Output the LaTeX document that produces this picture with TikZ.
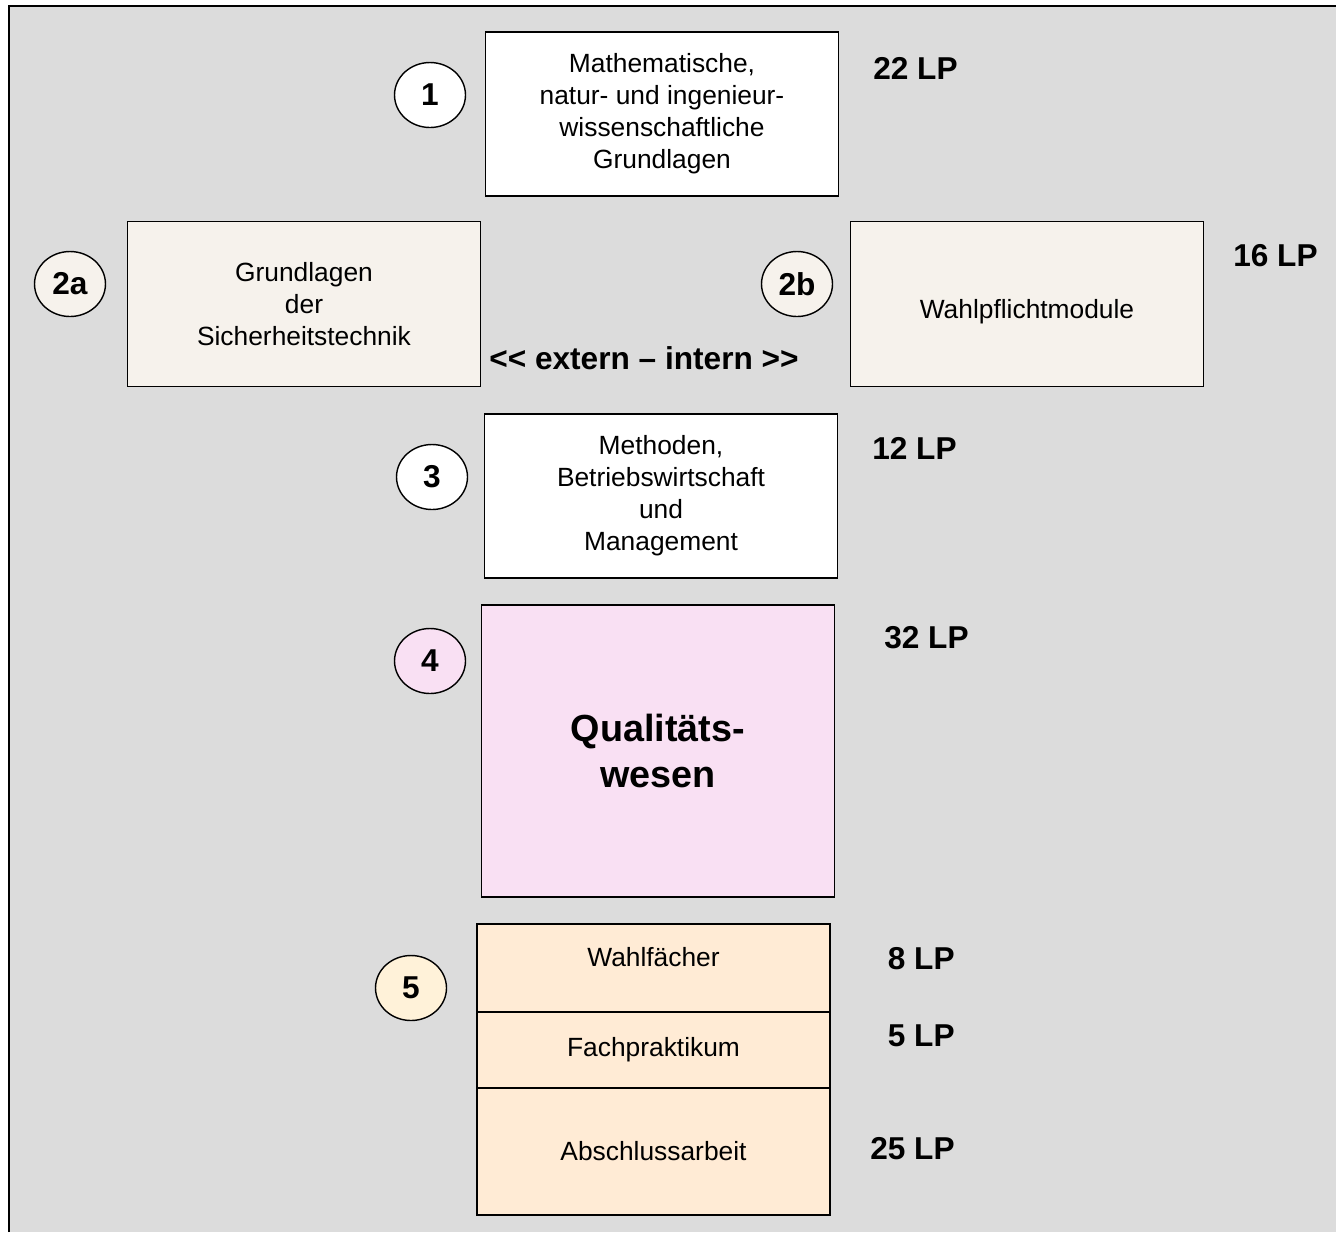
\documentclass[tikz,border=0pt]{standalone}
\usepackage{fontspec}
\setmainfont{Liberation Sans}
\usepackage{xcolor}
\usetikzlibrary{positioning, shapes.geometric}

\definecolor{bggray}{HTML}{DCDCDC}
\definecolor{creamfill}{HTML}{F6F2EC}
\definecolor{pinkfill}{HTML}{F9E0F3}
\definecolor{peachfill}{HTML}{FFEBD5}
\definecolor{peachcirc}{HTML}{FFF2D9}

\begin{document}
\begin{tikzpicture}[
    x=0.02cm, y=-0.02cm,
    modbox/.style={rectangle, draw=black, line width=0.8pt, inner sep=0pt,
        minimum width=7.07cm, align=center, font=\fontsize{15}{18.2}\selectfont},
    partbox/.style={modbox, fill=peachfill, outer sep=0pt, minimum width=7.06cm},
    numcirc/.style={ellipse, draw=black, line width=0.8pt, inner sep=0pt,
        minimum width=1.42cm, minimum height=1.3cm, font=\fontsize{18}{21}\selectfont\bfseries},
    lplabel/.style={font=\fontsize{18}{21}\selectfont\bfseries, inner sep=0pt},
]
\useasboundingbox (0,0) rectangle (1336,1232);
\fill[bggray] (9,6) rectangle (1336,1232);
\draw[line width=1.2pt] (9,1232) -- (9,6) -- (1336,6);

% 1
\node[modbox, fill=white, minimum height=3.28cm] (b1) at (662,114) {Mathematische,\\natur- und ingenieur-\\wissenschaftliche\\Grundlagen};
\node[numcirc, fill=white] (c1) at (430,95) {1};
\node[lplabel, anchor=east] (lp1) at (958,68) {22 LP};

% 2a / 2b
\node[modbox, fill=creamfill, minimum height=3.3cm] (b2a) at (304,304) {Grundlagen\\der\\Sicherheitstechnik};
\node[numcirc, fill=creamfill] (c2a) at (70,284) {2a};
\node[modbox, fill=creamfill, minimum height=3.3cm] (b2b) at (1027,304) {\raisebox{-0.16cm}[\height][\depth]{Wahlpflichtmodule}};
\node[numcirc, fill=creamfill] (c2b) at (797,284) {2b};
\node[lplabel, anchor=east] (lp2) at (1318,256) {16 LP};
\node[lplabel] (ext) at (644,358) {<\kern0pt< extern – intern >\kern0pt>};

% 3
\node[modbox, fill=white, minimum height=3.28cm] (b3) at (661,496) {Methoden,\\Betriebswirtschaft\\und\\Management};
\node[numcirc, fill=white] (c3) at (432,477) {3};
\node[lplabel, anchor=east] (lp3) at (957,448) {12 LP};

% 4
\node[modbox, fill=pinkfill, minimum height=5.84cm, font=\fontsize{21.5}{26}\selectfont\bfseries] (b4) at (658,751) {Qualitäts-\\wesen};
\node[numcirc, fill=pinkfill] (c4) at (430,661) {4};
\node[lplabel, anchor=east] (lp4) at (969,638) {32 LP};

% 5
\node[partbox, minimum height=1.76cm] (b5a) at (653.5,968) {\raisebox{0.22cm}[\height][\depth]{Wahlfächer}};
\node[partbox, minimum height=1.52cm, below=0pt of b5a] (b5b) {Fachpraktikum};
\node[partbox, minimum height=2.54cm, below=0pt of b5b] (b5c) {Abschlussarbeit};
\node[numcirc, fill=peachcirc] (c5) at (411,988) {5};
\node[lplabel, anchor=east] (lp5a) at (955,959) {8 LP};
\node[lplabel, anchor=east] (lp5b) at (955,1036) {5 LP};
\node[lplabel, anchor=east] (lp5c) at (955,1149) {25 LP};
\end{tikzpicture}
\end{document}
